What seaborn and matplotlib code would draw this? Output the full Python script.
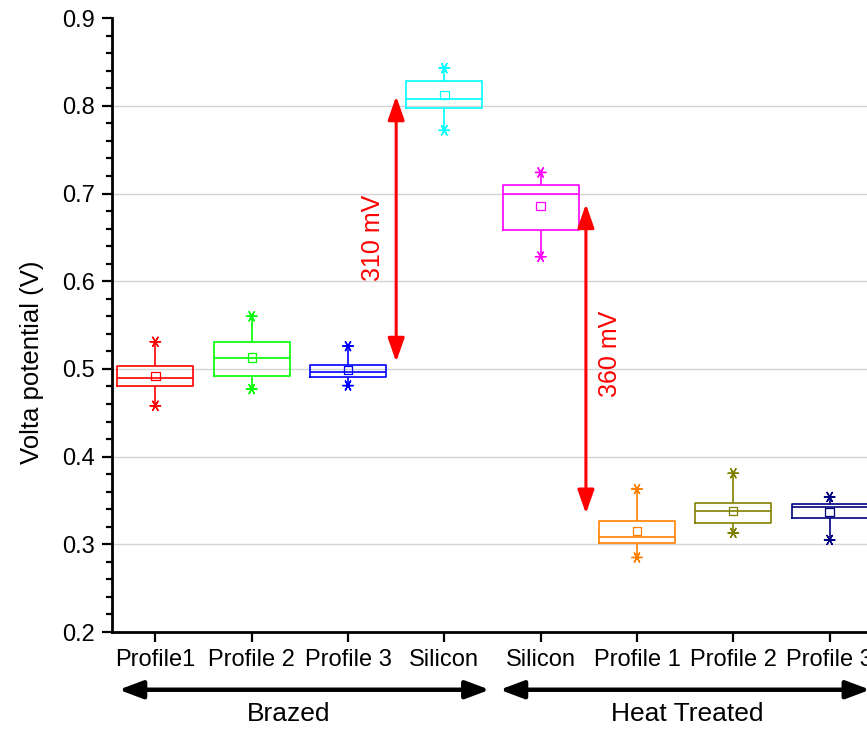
import numpy as np
import pandas as pd
import matplotlib.pyplot as plt
from matplotlib.ticker import MultipleLocator
import seaborn as sns

# groups along the x axis (keys), what is printed under them, and box colours
groups = ["B_P1", "B_P2", "B_P3", "B_Si", "H_Si", "H_P1", "H_P2", "H_P3"]
tick_labels = ["Profile1", "Profile 2", "Profile 3", "Silicon",
               "Silicon", "Profile 1", "Profile 2", "Profile 3"]
colors = ["#FF0000", "#00FF00", "#0000FF", "#00FFFF",
          "#FF00FF", "#FF8000", "#808000", "#000080"]

# box statistics (V)
low = [0.458, 0.477, 0.481, 0.772, 0.628, 0.285, 0.313, 0.305]
q1 = [0.480, 0.492, 0.491, 0.797, 0.658, 0.302, 0.324, 0.330]
median = [0.4895, 0.512, 0.497, 0.808, 0.699, 0.308, 0.338, 0.342]
q3 = [0.503, 0.531, 0.504, 0.828, 0.710, 0.327, 0.347, 0.346]
high = [0.531, 0.560, 0.526, 0.843, 0.724, 0.363, 0.381, 0.354]
mean = [0.492, 0.513, 0.499, 0.812, 0.686, 0.315, 0.338, 0.337]

# potential difference arrows: x position, bottom, top, label
gap_x = [2.5, 4.47]
gap_low = [0.508, 0.335]
gap_high = [0.811, 0.688]
gap_text = ["310 mV", "360 mV"]
gap_text_x = [2.26, 4.72]
gap_text_y = [0.649, 0.517]

# group brackets below the axis
section_names = ["Brazed", "Heat Treated"]
section_start = [-0.38, 3.575]
section_end = [3.47, 7.42]
section_label_x = [1.38, 5.52]

sns.set_style("ticks")
plt.rcParams["font.family"] = ["Liberation Sans", "DejaVu Sans"]
plt.rcParams["text.color"] = "black"
plt.rcParams["axes.labelcolor"] = "black"
plt.rcParams["xtick.color"] = "black"
plt.rcParams["ytick.color"] = "black"

fig = plt.figure(figsize=(8.67, 7.30), dpi=100)
ax = fig.add_axes([0.1292, 0.1342, 0.8777, 0.841])

# five-number data per group -> box from q1..q3, whiskers to low/high
box_df = pd.DataFrame({
    "group": np.repeat(groups, 5),
    "value": np.column_stack([low, q1, median, q3, high]).ravel(),
})
sns.boxplot(data=box_df, x="group", y="value", hue="group",
            order=groups, hue_order=groups, palette=colors,
            fill=False, width=0.79, whis=(0, 100), linewidth=1.2,
            capprops={"visible": False}, legend=False, ax=ax)

# asterisks at the extremes
star_df = pd.DataFrame({"group": groups * 2, "value": low + high})
n0 = len(ax.collections)
sns.stripplot(data=star_df, x="group", y="value", hue="group",
              order=groups, hue_order=groups, palette=colors,
              jitter=False, marker=(6, 2, 90), size=7.5, linewidth=1.0,
              legend=False, ax=ax)
for coll in ax.collections[n0:]:
    coll.set_edgecolor(coll.get_facecolor())
    coll.set_linewidth(1.0)

# open squares for the mean
mean_df = pd.DataFrame({"group": groups, "value": mean})
n0 = len(ax.collections)
sns.stripplot(data=mean_df, x="group", y="value", hue="group",
              order=groups, hue_order=groups, palette=colors,
              jitter=False, marker="s", size=6, linewidth=1,
              legend=False, ax=ax)
for coll in ax.collections[n0:]:
    fc = coll.get_facecolor()
    coll.set_edgecolor(fc)
    coll.set_facecolor("none")
    coll.set_linewidth(0.9)

# red difference arrows + labels
for x, lo, hi, txt, tx, ty in zip(gap_x, gap_low, gap_high, gap_text,
                                  gap_text_x, gap_text_y):
    ax.annotate("", xy=(x, lo), xytext=(x, hi),
                arrowprops=dict(arrowstyle="<|-|>,head_length=0.8,head_width=0.28",
                                color="red", lw=2.2, mutation_scale=18,
                                shrinkA=0, shrinkB=0))
    ax.text(tx, ty, txt, rotation=90, color="red", fontsize=18,
            ha="center", va="center")

# axes styling
ax.set_xlim(-0.45, 7.45)
ax.set_ylim(0.2, 0.9)
ax.set_xticks(np.arange(len(groups)), tick_labels)
ax.set_yticks(np.arange(0.2, 0.91, 0.1))
ax.yaxis.set_major_formatter(plt.FormatStrFormatter("%.1f"))
ax.yaxis.set_minor_locator(MultipleLocator(0.02))
ax.set_xlabel("")
ax.set_ylabel("Volta potential (V)", fontsize=18.5)
ax.yaxis.set_label_coords(-0.089, 0.44)

ax.yaxis.grid(True, color="#d4d4d4", lw=1)
ax.xaxis.grid(False)
ax.get_ygridlines()[0].set_visible(False)
ax.get_ygridlines()[-1].set_visible(False)

for side in ["top", "right"]:
    ax.spines[side].set_visible(False)
for side in ["left", "bottom"]:
    ax.spines[side].set_linewidth(2)
    ax.spines[side].set_color("black")

ax.tick_params(axis="both", which="major", direction="out", length=7,
               width=1.6, labelsize=17, color="black", labelcolor="black")
ax.tick_params(axis="y", which="minor", direction="out", length=4, width=1.6)
ax.tick_params(axis="x", pad=5)
ax.tick_params(axis="y", pad=5)

# section brackets under the tick labels
trans = ax.get_xaxis_transform()
for name, x0, x1, lx in zip(section_names, section_start, section_end,
                            section_label_x):
    ax.annotate("", xy=(x0, -0.094), xytext=(x1, -0.094),
                xycoords=trans, textcoords=trans, annotation_clip=False,
                arrowprops=dict(arrowstyle="<|-|>,head_length=0.8,head_width=0.3",
                                color="black", lw=3.2, mutation_scale=18,
                                shrinkA=0, shrinkB=0))
    ax.text(lx, -0.133, name, transform=trans, fontsize=19,
            ha="center", va="center", clip_on=False)

fig.savefig("out.png", dpi=100)
